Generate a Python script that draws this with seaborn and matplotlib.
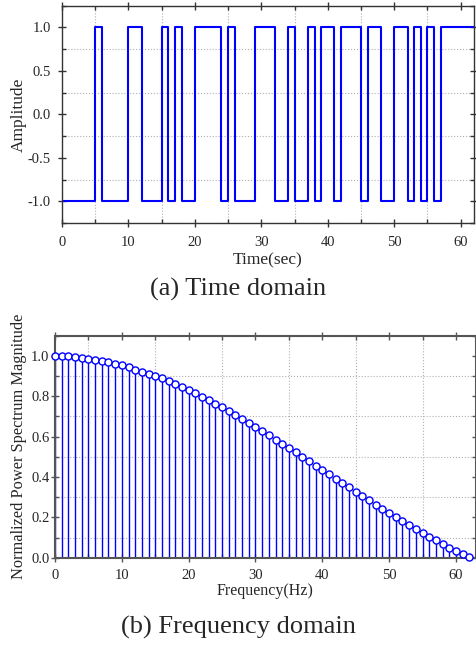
import numpy as np
import pandas as pd
import matplotlib
matplotlib.use("Agg")
import matplotlib.pyplot as plt
from matplotlib.ticker import MultipleLocator
import seaborn as sns

# ---- data ----
time_sec = list(range(63))
amplitude = [-1, -1, -1, -1, -1, 1, -1, -1, -1, -1,
             1, 1, -1, -1, -1, 1, -1, 1, -1, -1,
             1, 1, 1, 1, -1, 1, -1, -1, -1, 1,
             1, 1, -1, -1, 1, -1, -1, 1, -1, 1,
             1, -1, 1, 1, 1, -1, 1, 1, -1, -1,
             1, 1, -1, 1, -1, 1, -1, 1, 1, 1,
             1, 1, 1]
freq_hz = list(range(63))
power = [1.0, 1.0, 0.997, 0.993, 0.99, 0.985, 0.98, 0.973, 0.968, 0.96,
         0.954, 0.944, 0.932, 0.922, 0.912, 0.899, 0.888, 0.874, 0.86, 0.845,
         0.831, 0.815, 0.797, 0.78, 0.762, 0.745, 0.725, 0.705, 0.686, 0.666,
         0.646, 0.626, 0.607, 0.585, 0.565, 0.544, 0.522, 0.501, 0.478, 0.456,
         0.436, 0.413, 0.392, 0.37, 0.349, 0.327, 0.306, 0.284, 0.263, 0.241,
         0.221, 0.202, 0.182, 0.16, 0.14, 0.122, 0.104, 0.088, 0.068, 0.05,
         0.033, 0.017, 0.003]

sns.set_theme(style="ticks")
plt.rcParams['font.family'] = ['Liberation Serif', 'DejaVu Serif']
plt.rcParams['mathtext.fontset'] = 'stix'

fig = plt.figure(figsize=(4.76, 6.45), dpi=100)


def style_ticks(ax, color, labelsize, xpad, ypad):
    ax.tick_params(which="both", top=True, right=True, labelsize=labelsize,
                   color=color, width=1)
    ax.tick_params(which="major", direction="inout", length=6)
    ax.tick_params(which="minor", direction="in", length=3)
    ax.tick_params(axis="x", which="major", pad=xpad)
    ax.tick_params(axis="y", which="major", pad=ypad)


# ---- top: time domain ----
ax1 = fig.add_axes([62/476, 1-223/645, (474-62)/476, (223-5.7)/645])
df1 = pd.DataFrame({"t": time_sec, "a": amplitude})
sns.lineplot(data=df1, x="t", y="a", ax=ax1, drawstyle="steps-post",
             color="#0000ff", linewidth=1.5)
ax1.set_xlim(0, 62)
ax1.set_ylim(-1.25, 1.25)
ax1.xaxis.set_major_locator(MultipleLocator(10))
ax1.xaxis.set_minor_locator(MultipleLocator(5))
ax1.set_yticks([-1.0, -0.5, 0.0, 0.5, 1.0])
ax1.set_yticklabels(["-1.0", "-0.5", "0.0", "0.5", "1.0"])
ax1.yaxis.set_minor_locator(MultipleLocator(0.25))
ax1.grid(which="minor", linestyle=":", color="#b0b0b0", linewidth=0.8)
ax1.grid(which="major", visible=False)
style_ticks(ax1, "#333333", 10.5, 6, 5)
for s in ax1.spines.values():
    s.set_color("#333333")
    s.set_linewidth(1.0)
ax1.set_xlabel("Time(sec)", fontsize=12.5, labelpad=2.5)
ax1.set_ylabel("Amplitude", fontsize=12.5, labelpad=1)
fig.text(0.5, 1-289/645, "(a) Time domain", ha="center", va="center", fontsize=19)

# ---- bottom: frequency domain ----
ax2 = fig.add_axes([55/476, 1-557.7/645, (476-55)/476, (557.7-335.7)/645])
ax2.vlines(freq_hz, 0, power, color="#0000ff", linewidth=1.0, zorder=2)
df2 = pd.DataFrame({"f": freq_hz, "p": power})
sns.scatterplot(data=df2, x="f", y="p", ax=ax2, marker="o", s=26,
                facecolor="white", edgecolor="#0000ff", linewidth=1.0, zorder=3,
                clip_on=False)
ax2.set_xlim(0, 63)
ax2.set_ylim(0, 1.1)
ax2.xaxis.set_major_locator(MultipleLocator(10))
ax2.xaxis.set_minor_locator(MultipleLocator(5))
ax2.yaxis.set_major_locator(MultipleLocator(0.2))
ax2.yaxis.set_minor_locator(MultipleLocator(0.1))
ax2.grid(which="minor", linestyle=":", color="#b0b0b0", linewidth=0.8)
ax2.grid(which="major", visible=False)
style_ticks(ax2, "#555555", 10.5, 5, 1)
for s in ax2.spines.values():
    s.set_color("#555555")
    s.set_linewidth(1.5)
ax2.set_xlabel("Frequency(Hz)", fontsize=11.5, labelpad=1)
ax2.set_ylabel("Normalized Power Spectrum Magnitude", fontsize=11.8, labelpad=3)
fig.text(0.5, 1-627/645, "(b) Frequency domain", ha="center", va="center", fontsize=19)

fig.savefig("out.png", dpi=100)
